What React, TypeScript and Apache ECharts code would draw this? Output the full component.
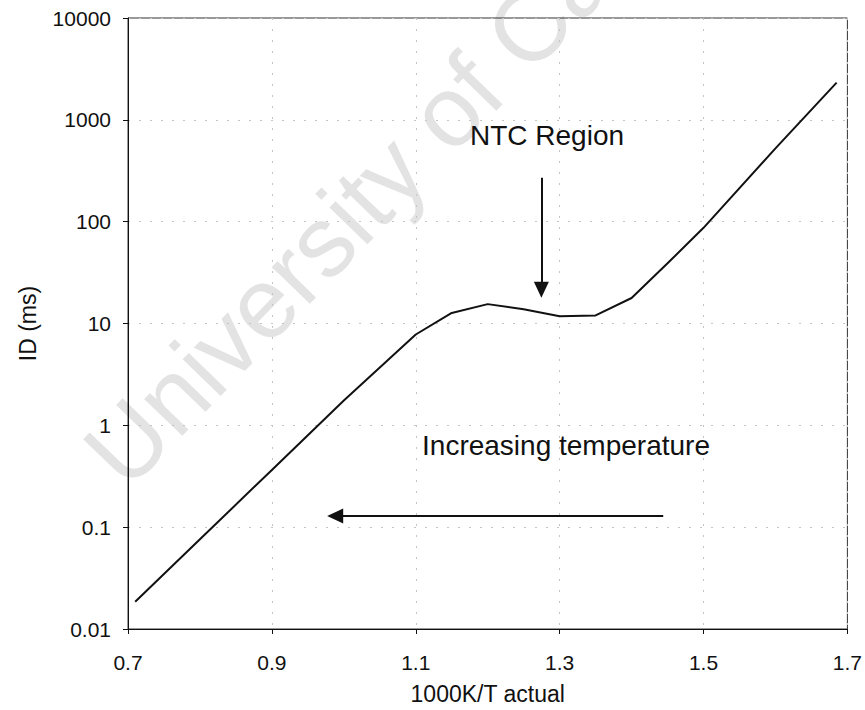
import React, { useEffect, useRef } from 'react';
import * as echarts from 'echarts';

// x axis origin (axis is drawn shifted so ticks start at a multiple of the interval)
const X_ORIGIN = 0.7;
const X_TICK_STEP = 0.2;

// 1000K/T actual
const inverseTemp = [0.71, 0.8, 0.9, 1.0, 1.1, 1.15, 1.2, 1.25, 1.3, 1.35, 1.4, 1.45, 1.5, 1.6, 1.685];
// Ignition delay ID (ms)
const ignitionDelay = [0.0185, 0.076, 0.365, 1.75, 7.8, 12.7, 15.5, 13.8, 11.8, 12.0, 17.8, 39, 87, 525, 2320];

// annotation arrows (data coordinates)
const ntcArrowX = [1.2746, 1.2746];
const ntcArrowY = [270, 21.5];
const tempArrowX = [1.444, 0.988];
const tempArrowY = [0.129, 0.129];

const FONT = '"Liberation Sans", Arial, sans-serif';

export default function App() {
  const ref = useRef<HTMLDivElement>(null);
  useEffect(() => {
    document.body.style.margin = '0';
    const chart = echarts.init(ref.current!, null, { renderer: 'svg' });
    const sx = (v: number) => +(v - X_ORIGIN).toFixed(6);
    const fmtY = (v: number) => String(Number(v.toPrecision(6)));
    chart.setOption({
      animation: false,
      backgroundColor: '#ffffff',
      textStyle: { fontFamily: FONT },
      grid: {
        left: 128,
        right: 17,
        top: 18,
        bottom: 80,
        show: true,
        borderColor: '#333',
        borderWidth: 1,
        backgroundColor: 'transparent',
      },
      xAxis: {
        type: 'value',
        min: 0,
        max: 1.0,
        interval: X_TICK_STEP,
        name: '1000K/T actual',
        nameLocation: 'middle',
        nameGap: 53,
        nameTextStyle: { fontSize: 23, color: '#111', fontFamily: FONT },
        axisLine: { show: true, lineStyle: { color: '#111', width: 1 } },
        axisTick: { show: true, inside: false, length: 5, lineStyle: { color: '#111' } },
        axisLabel: {
          fontSize: 21,
          color: '#111',
          margin: 23,
          fontFamily: FONT,
          formatter: (v: number) => (v + X_ORIGIN).toFixed(1),
        },
        splitLine: { show: true, lineStyle: { color: '#c4c4c4', type: [2, 9], width: 1 } },
      },
      yAxis: {
        type: 'log',
        logBase: 10,
        min: 0.01,
        max: 10000,
        name: 'ID (ms)',
        nameLocation: 'middle',
        nameGap: 89,
        nameRotate: 90,
        nameTextStyle: { fontSize: 23, color: '#111', fontFamily: FONT },
        axisLine: { show: true, lineStyle: { color: '#111', width: 1 } },
        axisTick: { show: true, inside: false, length: 5, lineStyle: { color: '#111' } },
        axisLabel: { fontSize: 21, color: '#111', margin: 17, fontFamily: FONT, formatter: fmtY },
        splitLine: { show: true, lineStyle: { color: '#c4c4c4', type: [2, 9], width: 1 } },
        minorTick: { show: false },
      },
      graphic: [
        {
          type: 'text',
          z: -10,
          x: 138,
          y: 503,
          rotation: (46 * Math.PI) / 180,
          style: {
            text: 'University of Cape Town',
            fontSize: 100,
            fontFamily: FONT,
            fill: '#e3e3e3',
            textAlign: 'left',
            textVerticalAlign: 'bottom',
          },
        },
        {
          type: 'text',
          z: 10,
          x: 547,
          y: 135,
          style: {
            text: 'NTC Region',
            fontSize: 28,
            fontFamily: FONT,
            fill: '#111',
            textAlign: 'center',
            textVerticalAlign: 'middle',
          },
        },
        {
          type: 'text',
          z: 10,
          x: 566,
          y: 445,
          style: {
            text: 'Increasing temperature',
            fontSize: 28,
            fontFamily: FONT,
            fill: '#111',
            textAlign: 'center',
            textVerticalAlign: 'middle',
          },
        },
      ],
      series: [
        {
          type: 'line',
          data: inverseTemp.map((x, i) => [sx(x), ignitionDelay[i]]),
          showSymbol: false,
          symbol: 'none',
          smooth: false,
          lineStyle: { color: '#111', width: 2 },
          z: 5,
          markLine: {
            silent: true,
            symbol: ['none', 'triangle'],
            symbolSize: [15, 16],
            label: { show: false },
            lineStyle: { color: '#111', width: 2, type: 'solid' },
            data: [
              [
                { coord: [sx(ntcArrowX[0]), ntcArrowY[0]] },
                { coord: [sx(ntcArrowX[1]), ntcArrowY[1]] },
              ],
              [
                { coord: [sx(tempArrowX[0]), tempArrowY[0]] },
                { coord: [sx(tempArrowX[1]), tempArrowY[1]] },
              ],
            ],
          },
        },
      ],
    });
    return () => chart.dispose();
  }, []);
  return <div ref={ref} style={{ position: 'absolute', left: 0, top: 0, width: 865, height: 710 }} />;
}
